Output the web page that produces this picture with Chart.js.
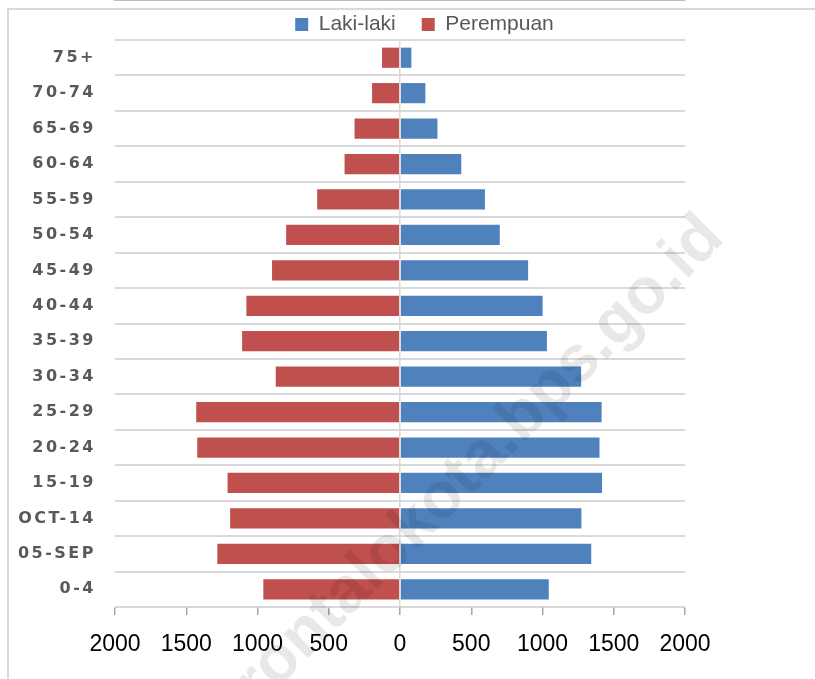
<!DOCTYPE html>
<html lang="id">

<head>
    <meta charset="UTF-8">
    <title>Piramida Penduduk</title>
    <script src="https://cdn.jsdelivr.net/npm/chart.js"></script>
    <style>
        html, body { margin: 0; padding: 0; background: #fff; overflow: hidden; }
        #wrap { position: relative; width: 815px; height: 679px; }
        #frame { position: absolute; left: 7px; top: 8px; width: 900px; height: 800px;
                 border-left: 2px solid #d9d9d9; border-top: 2px solid #d9d9d9; }
        canvas { position: absolute; left: 0; top: 0; }
    </style>
</head>

<body>
    <div id="wrap">
        <div id="frame"></div>
        <canvas id="myChart" width="815" height="679"></canvas>
    </div>

    <script>
        // kelompok umur, dari atas ke bawah
        const ageGroups = ['75+', '70-74', '65-69', '60-64', '55-59', '50-54', '45-49', '40-44',
            '35-39', '30-34', '25-29', '20-24', '15-19', 'OCT-14', '05-SEP', '0-4'];
        const lakiLaki = [80, 178, 263, 430, 596, 700, 899, 1001, 1031, 1271, 1415, 1400, 1418, 1273, 1342, 1044];
        const perempuan = [126, 196, 319, 389, 581, 799, 898, 1078, 1108, 872, 1430, 1423, 1210, 1192, 1282, 959];
        const watermark = 'rontalokota.bps.go.id';

        // tulisan watermark miring di atas grafik
        const watermarkPlugin = {
            id: 'watermark',
            afterDraw(chart) {
                const c = chart.ctx;
                c.save();
                c.translate(726, 240);
                c.rotate(-Math.PI / 4);
                c.font = 'bold 65px "Liberation Sans", Arial, sans-serif';
                c.fillStyle = 'rgba(0,0,0,0.09)';
                c.textAlign = 'right';
                c.textBaseline = 'alphabetic';
                c.fillText(watermark, 0, 0);
                c.restore();
            }
        };

        const ctx = document.getElementById('myChart').getContext('2d');

        new Chart(ctx, {
            type: 'bar',
            data: {
                labels: ageGroups,
                datasets: [
                    {
                        label: 'Laki-laki',
                        backgroundColor: '#4F81BD',
                        data: lakiLaki,
                    },
                    {
                        label: 'Perempuan',
                        backgroundColor: '#C0504D',
                        data: perempuan.map(v => -v),
                    },
                ],
            },
            options: {
                indexAxis: 'y',
                responsive: false,
                animation: false,
                layout: { padding: { left: 34, right: 0, top: -12, bottom: 0 } },
                datasets: { bar: { categoryPercentage: 1, barPercentage: 0.57 } },
                plugins: {
                    tooltip: { enabled: false },
                    legend: {
                        position: 'top',
                        maxHeight: 52,
                        labels: {
                            boxWidth: 13,
                            boxHeight: 13,
                            padding: 26,
                            color: '#595959',
                            font: { family: '"Liberation Sans", Arial, sans-serif', size: 21 },
                        },
                    },
                },
                scales: {
                    x: {
                        stacked: true,
                        min: -2000,
                        max: 2000,
                        ticks: {
                            stepSize: 500,
                            color: '#000',
                            padding: 16,
                            maxRotation: 0,
                            font: { family: '"Liberation Sans", Arial, sans-serif', size: 23 },
                            callback: v => Math.abs(v),
                        },
                        grid: {
                            z: 1,
                            color: c => (c.tick && c.tick.value === 0 ? '#d9d9d9' : 'rgba(0,0,0,0)'),
                            lineWidth: 1.5,
                            tickColor: '#a6a6a6',
                            tickLength: 8,
                        },
                        border: { display: true, color: '#a6a6a6', width: 1.5 },
                        afterFit(scale) { scale.height = 72; },
                    },
                    y: {
                        stacked: true,
                        ticks: {
                            color: '#595959',
                            padding: 19,
                            font: { family: '"DejaVu Sans", sans-serif', size: 16, weight: 'bold' },
                        },
                        grid: { color: '#d9d9d9', lineWidth: 2, drawTicks: false },
                        border: { display: false },
                        afterFit(scale) {
                            scale.width = 81;
                            if (!scale._spaced) {
                                // label umur pakai jarak huruf, tanpa dipotong
                                const orig = scale.drawLabels;
                                scale._computeLabelArea = () => undefined;
                                scale.drawLabels = function (area) {
                                    this.ctx.save();
                                    this.ctx.letterSpacing = '2.5px';
                                    orig.call(this, area);
                                    this.ctx.restore();
                                };
                                scale._spaced = true;
                            }
                        },
                    },
                    yRight: {
                        type: 'category',
                        position: 'right',
                        labels: ageGroups,
                        ticks: { display: false },
                        grid: { display: false },
                        border: { display: false },
                        afterFit(scale) { scale.width = 130; },
                    },
                },
            },
            plugins: [watermarkPlugin],
        });
    </script>
</body>

</html>
